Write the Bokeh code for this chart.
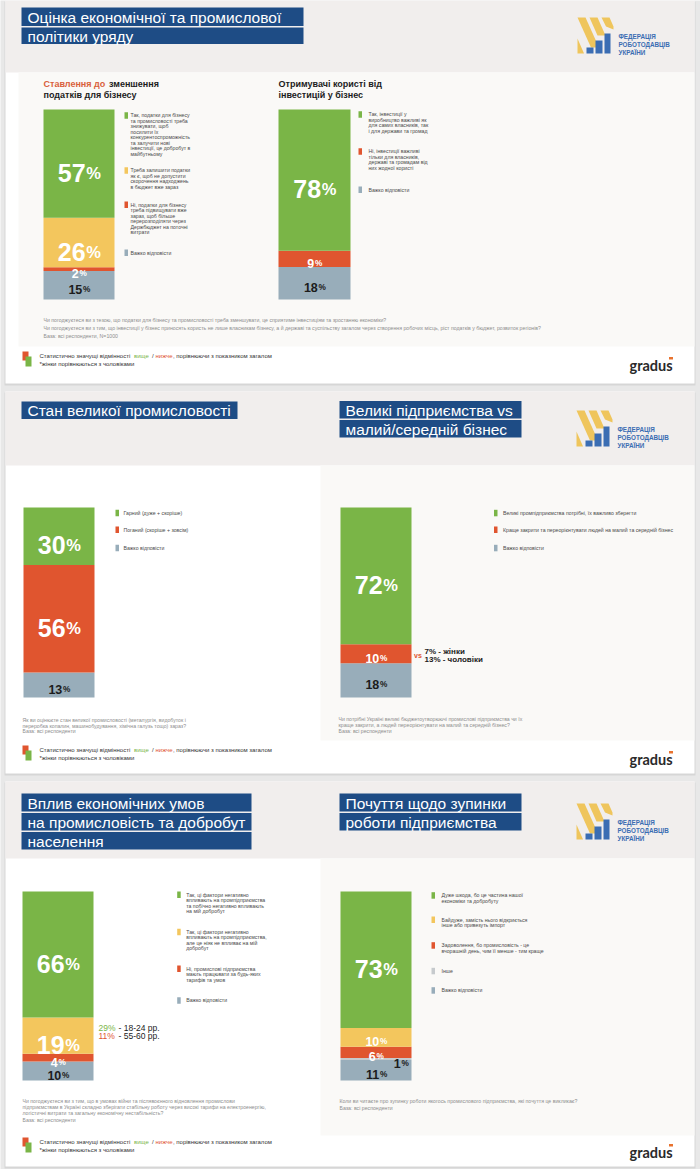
import numpy as np
from bokeh.plotting import figure
from bokeh.models import Range1d, ColumnDataSource
from bokeh.embed import file_html
from bokeh.resources import INLINE
from bokeh.core.properties import value

W, H = 700, 1169
SANS = "Liberation Sans"

GREEN = "#7ab547"
YELLOW = "#f3c65d"
RED = "#e0552f"
GREY = "#98adba"
OTHER = "#c6cacd"
NAVY = "#1e4c85"
LOGO_BLUE = "#3b6db3"
LOGO_GOLD = "#efc55c"
ACCENT = "#d9603c"
INK = "#1c1c1c"
LEGEND_INK = "#4a4a4a"
NOTE_INK = "#8e8e8e"

# ---------------- survey results, % of respondents (legend order) ----------------
tax_values = [57, 26, 2, 15]
tax_colors = [GREEN, YELLOW, RED, GREY]
tax_legend = [
    ["Так, податки для бізнесу", "та промисловості треба", "знижувати, щоб", "посилити їх",
     "конкурентоспроможність", "та залучити нові", "інвестиції, це добробут в", "майбутньому"],
    ["Треба залишити податки", "як є, щоб не допустити", "скорочення надходжень", "в бюджет вже зараз"],
    ["Ні, податки для бізнесу", "треба підвищувати вже", "зараз, щоб більше", "перерозподіляти через",
     "Держбюджет на поточні", "витрати"],
    ["Важко відповісти"],
]

invest_values = [78, 9, 18]
invest_colors = [GREEN, RED, GREY]
invest_legend = [
    ["Так, інвестиції у", "виробництво важливі як", "для самих власників, так", "і для держави та громад"],
    ["Ні, інвестиції важливі", "тільки для власників,", "державі та громадам від", "них жодної користі"],
    ["Важко відповісти"],
]

industry_values = [30, 56, 13]
industry_colors = [GREEN, RED, GREY]
industry_legend = [["Гарний (дуже + скоріше)"], ["Поганий (скоріше + зовсім)"], ["Важко відповісти"]]

bigbiz_values = [72, 10, 18]
bigbiz_colors = [GREEN, RED, GREY]
bigbiz_legend = [
    ["Великі промпідприємства потрібні, їх важливо зберегти"],
    ["Краще закрити та переорієнтувати людей на малий та середній бізнес"],
    ["Важко відповісти"],
]

impact_values = [66, 19, 4, 10]
impact_colors = [GREEN, YELLOW, RED, GREY]
impact_legend = [
    ["Так, ці фактори негативно", "впливають на промпідприємства", "та побічно негативно впливають", "на мій добробут"],
    ["Так, ці фактори негативно", "впливають на промпідприємства,", "але це ніяк не впливає на мій", "добробут"],
    ["Ні, промислові підприємства", "мають працювати за будь-яких", "тарифів та умов"],
    ["Важко відповісти"],
]

shutdown_values = [73, 10, 6, 1, 11]
shutdown_colors = [GREEN, YELLOW, RED, OTHER, GREY]
shutdown_legend = [
    ["Дуже шкода, бо це частина нашої", "економіки та добробуту"],
    ["Байдуже, замість нього відкриється", "інше або привезуть імпорт"],
    ["Задоволення, бо промисловість - це", "вчорашній день, чим її менше - тим краще"],
    ["Інше"],
    ["Важко відповісти"],
]

# ---------------- canvas in page pixels ----------------
p = figure(width=W, height=H, x_range=Range1d(0, W), y_range=Range1d(H, 0),
           output_backend="svg", toolbar_location=None, min_border=0,
           x_axis_location=None, y_axis_location=None, outline_line_color=None,
           background_fill_color="#e8e8e8", border_fill_color="#e8e8e8")
p.grid.visible = False


def box(x0, x1, y0, y1, color):
    p.quad(left=[x0], right=[x1], top=[y0], bottom=[y1], fill_color=color, line_color=None)


def write(x, y, text, size, color=INK, bold=False, font=SANS, align="left", baseline="middle"):
    if isinstance(text, str):
        x, y, text = [x], [y], [text]
    src = ColumnDataSource(dict(x=list(x), y=list(y), t=list(text)))
    p.text(x="x", y="y", text="t", source=src, text_font=value(font),
           text_font_size=f"{size}px", text_color=color,
           text_font_style="bold" if bold else "normal",
           text_align=align, text_baseline=baseline)


def logo(x0, y0):
    stripes = [
        [(0, 0), (8, 0), (21.5, 30), (13.5, 30)],
        [(12, 0), (20, 0), (28, 18), (20, 18)],
        [(24, 0), (32, 0), (36, 9), (36, 12), (28.5, 9)],
        [(0, 21), (0, 36), (6.5, 36)],
    ]
    p.patches(xs=[[x0 + a for a, _ in s] for s in stripes],
              ys=[[y0 + b for _, b in s] for s in stripes],
              fill_color=LOGO_GOLD, line_color=None)
    bars = [(9, 16, 30), (18, 25, 23), (27, 33, 16)]
    p.quad(left=[x0 + a for a, _, _ in bars], right=[x0 + b for _, b, _ in bars],
           top=[y0 + c for _, _, c in bars], bottom=[y0 + 36] * 3,
           fill_color=LOGO_BLUE, line_color=None)
    write([x0 + 41] * 3, [y0 + 19, y0 + 27, y0 + 35],
          ["ФЕДЕРАЦІЯ", "РОБОТОДАВЦІВ", "УКРАЇНИ"], 6.3, LOGO_BLUE, bold=True)


def footer(ytop, ylogo):
    box(22, 28, ytop, ytop + 9, RED)
    box(25, 31, ytop + 5, ytop + 15, GREEN)
    y1, y2 = ytop + 4.5, ytop + 12.8
    write(39, y1, "Статистично значущі відмінності", 6, "#333333")
    write(133.5, y1, "вище", 6, GREEN)
    write(151.5, y1, "/", 6, "#333333")
    write(155, y1, "нижче", 6, RED)
    write(172.5, y1, ", порівнюючи з показником загалом", 6, "#333333")
    write(39, y2, "*жінки порівнюються з чоловіками", 6, "#333333")
    write(629, ylogo, "gradus", 14.5, "#2a2a2a", bold=True, font="Lato")
    p.quad(left=[668.5], right=[672.5], top=[ylogo - 8.5], bottom=[ylogo - 6], fill_color="#e8722e", line_color=None)


def titles(items):
    for x0, x1, y0, y1, t in items:
        box(x0, x1, y0, y1, NAVY)
        write(x0 + 6, (y0 + y1) / 2 + 0.5, t, 15.5, "#ffffff")


def legend(items, colors, sq_x, txt_x, tops, step=5.5, size=5.2):
    for lines, c, t in zip(items, colors, tops):
        box(sq_x, sq_x + 3.5, t, t + 6.5, c)
        write([txt_x] * len(lines), [t + 3 + j * step for j in range(len(lines))], lines, size, LEGEND_INK)


def stacked_bar(name, values, colors, x0, x1, top, bottom, small_dx=None):
    total = float(sum(values))
    span = bottom - top
    # a per-bar value axis: 0 sits on the bar's base, the total on its top edge
    p.extra_y_ranges[name] = Range1d(start=(bottom - H) / span * total, end=bottom / span * total)
    n = len(values)
    order = list(range(n))[::-1]          # first option on top of the stack
    keys = [f"s{i}" for i in range(n)]
    data = {"x": [(x0 + x1) / 2]}
    for i in range(n):
        data[keys[i]] = [values[i]]
    src = ColumnDataSource(data)
    p.vbar_stack([keys[i] for i in order], x="x", width=x1 - x0, source=src,
                 fill_color=[colors[i] for i in order], line_color=None, y_range_name=name)

    rev = np.array([values[i] for i in order], dtype=float)
    mids_rev = np.cumsum(rev) - rev / 2
    mids = {order[k]: mids_rev[k] for k in range(n)}
    cx = (x0 + x1) / 2
    for i, v in enumerate(values):
        big = v >= 19
        fs = 25 if big else 12.5
        pfs = fs * 0.66
        dark = colors[i] in (GREY, OTHER)
        col = INK if dark else "#ffffff"
        dx = 0
        if small_dx and i in small_dx:
            dx = small_dx[i]
        num = str(v)
        w_num = len(num) * 0.556 * fs
        w_pct = 0.889 * pfs
        xb = cx + dx + (w_num - w_pct) / 2
        for txt, size, al, xx in ((num, fs, "right", xb), ("%", pfs, "left", xb + 0.8)):
            p.text(x=[xx], y=[mids[i]], text=[txt], y_range_name=name,
                   text_font=value(SANS), text_font_size=f"{size}px", text_font_style="bold",
                   text_color=col, text_align=al, text_baseline="alphabetic",
                   y_offset=0.36 * fs)


# ---------------- cards ----------------
cards = [(0, 383, 72), (391, 773, 465), (781, 1166, 858)]
for top, bottom, head in cards:
    box(4, 695, top + 1, bottom + 2, "#d6d6d6")
    box(5, 694, top, bottom, "#ffffff")
    box(5, 694, top, head, "#f1eeed")

box(18, 694, 72, 346, "#faf9f7")
box(320, 694, 465, 740, "#faf9f7")
box(320, 694, 858, 1135, "#faf9f7")

# ---------------- slide 1 ----------------
titles([(21, 303, 7, 25.5, "Оцінка економічної та промислової"),
        (21, 303, 27, 43.5, "політики уряду")])
logo(577, 17)
write(43, 83.5, "Ставлення до", 9, ACCENT, bold=True)
write(108.5, 83.5, "зменшення", 9, INK, bold=True)
write(43, 94.5, "податків для бізнесу", 9, INK, bold=True)
write(278, 83.5, "Отримувачі користі від", 9, INK, bold=True)
write(278, 94.5, "інвестицій у бізнес", 9, INK, bold=True)

stacked_bar("tax", tax_values, tax_colors, 43, 114, 109, 299)
legend(tax_legend, tax_colors, 124, 130, [111.7, 166.7, 201, 249])
stacked_bar("invest", invest_values, invest_colors, 278, 350, 109, 299)
legend(invest_legend, invest_colors, 358, 368, [110.7, 147.7, 186])

write([43] * 3, [319, 327, 335],
      ["Чи погоджуєтеся ви з тезою, що податки для бізнесу та промисловості треба зменшувати, це сприятиме інвестиціям та зростанню економіки?",
       "Чи погоджуєтеся ви з тим, що інвестиції у бізнес приносять користь не лише власникам бізнесу, а й державі та суспільству загалом через створення робочих місць, ріст податків у бюджет, розвиток регіонів?",
       "База: всі респонденти, N=1000"], 5.2, NOTE_INK)
footer(351, 365)

# ---------------- slide 2 ----------------
titles([(21, 237, 401, 418.5, "Стан великої промисловості"),
        (339, 521, 400.5, 418, "Великі підприємства vs"),
        (339, 521, 419.5, 437, "малий/середній бізнес")])
logo(576, 410)

stacked_bar("industry", industry_values, industry_colors, 23, 94, 507, 697)
legend(industry_legend, industry_colors, 115, 123, [509.3, 526, 544.3])
stacked_bar("bigbiz", bigbiz_values, bigbiz_colors, 340, 411, 507, 697)
legend(bigbiz_legend, bigbiz_colors, 493.5, 502.5, [509.3, 526, 544.3])

write(413.5, 655, "vs", 7, RED, bold=True)
write([424, 424], [650.5, 659], ["7% - жінки", "13% - чоловіки"], 8, INK, bold=True)

write([22] * 3, [719.3, 725, 730.7],
      ["Як ви оцінюєте стан великої промисловості (металургія, видобуток і",
       "переробка копалин, машинобудування, хімічна галузь тощо) зараз?",
       "База: всі респонденти"], 5.2, NOTE_INK)
write([338] * 3, [718.5, 724.2, 730],
      ["Чи потрібні Україні великі бюджетоутворюючі промислові підприємства чи їх",
       "краще закрити, а людей переорієнтувати на малий та середній бізнес?",
       "База: всі респонденти"], 5.2, NOTE_INK)
footer(745, 759)

# ---------------- slide 3 ----------------
titles([(21, 251, 793, 811, "Вплив економічних умов"),
        (21, 251, 812.5, 830, "на промисловість та добробут"),
        (21, 251, 831.5, 849, "населення"),
        (339, 521, 793, 811, "Почуття щодо зупинки"),
        (339, 521, 812.5, 830, "роботи підприємства")])
logo(576, 803)

stacked_bar("impact", impact_values, impact_colors, 22, 93, 891, 1080)
legend(impact_legend, impact_colors, 176.7, 185.7, [891, 928.3, 965, 996.7])
stacked_bar("shutdown", shutdown_values, shutdown_colors, 340, 411, 891, 1080, small_dx={3: 25})
legend(shutdown_legend, shutdown_colors, 431, 441, [891.7, 916, 941.7, 967.3, 986.7], step=5.8)

write(98, 1027, "29%", 8.5, GREEN)
write(118, 1027, "- 18-24 рр.", 8.5, INK)
write(98, 1035, "11%", 8.5, RED)
write(118, 1035, "- 55-60 рр.", 8.5, INK)

write([22] * 4, [1100, 1106, 1112, 1119],
      ["Чи погоджуєтеся ви з тим, що в умовах війни та післявоєнного відновлення промислови",
       "підприємствам в Україні складно зберігати стабільну роботу через високі тарифи на електроенергію,",
       "логістичні витрати та загальну економічну нестабільність?",
       "База: всі респонденти"], 5.2, NOTE_INK)
write([339] * 2, [1100, 1107],
      ["Коли ви читаєте про зупинку роботи якогось промислового підприємства, які почуття це викликає?",
       "База: всі респонденти"], 5.2, NOTE_INK)
footer(1137, 1152)

open("out.html", "w").write(file_html(p, INLINE))
